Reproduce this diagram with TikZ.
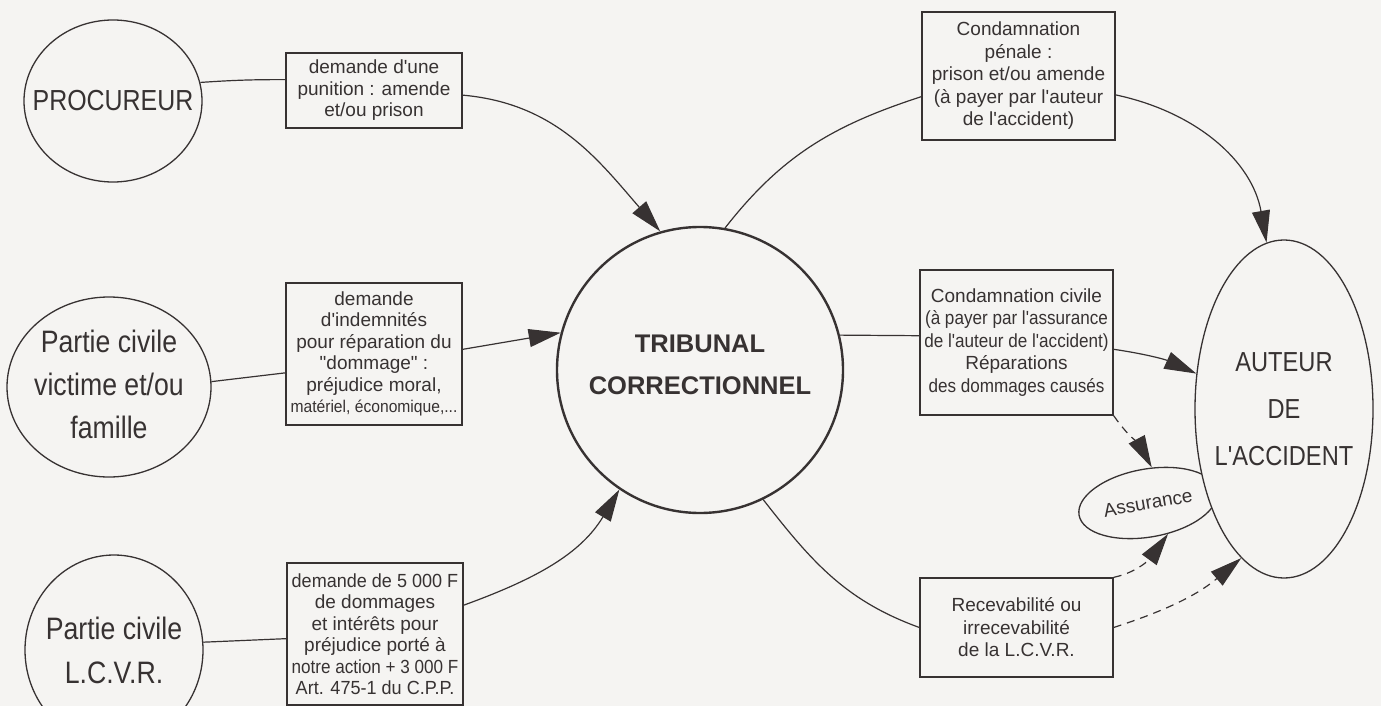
\documentclass[tikz,border=0pt]{standalone}
\usepackage{fontspec}
\setmainfont{Liberation Sans}[Ligatures=TeXOff]
\newfontfamily\bignarrow{Liberation Sans}[Ligatures=TeXOff, FakeStretch=0.86]
\newfontfamily\boxnarrow{Liberation Sans}[Ligatures=TeXOff, FakeStretch=0.9]
\newfontfamily\boxsemi{Liberation Sans}[Ligatures=TeXOff, FakeStretch=0.95]
\newfontfamily\boxsmall{Liberation Sans}[Ligatures=TeXOff, FakeStretch=0.92]
\usetikzlibrary{shapes.geometric, arrows.meta}

\definecolor{ink}{RGB}{55,50,50}
\definecolor{paper}{RGB}{245,244,242}

\tikzset{
  conn/.style={draw=ink, line width=1.2pt},
  arr/.style={conn, -{Triangle[length=32pt,width=18pt]}},
  darr/.style={arr, dash pattern=on 8pt off 6pt},
  box/.style={draw=ink, line width=1.3pt, rectangle, inner sep=0pt, align=center,
    text=ink, fill=paper, font=\fontsize{19}{21.5}\selectfont},
  rbox/.style={box, font=\fontsize{19}{22.5}\selectfont},
  oval/.style={draw=ink, line width=1.3pt, ellipse, inner sep=0pt, fill=paper},
  bigtext/.style={align=center, text=ink, inner sep=0pt},
}

\begin{document}
\begin{tikzpicture}[x=1pt,y=1pt]
  \fill[paper] (0,0) rectangle (1381,-706);
  \useasboundingbox (0,0) rectangle (1381,-706);

  % parties on the left
  \node[oval, minimum width=178pt, minimum height=162pt,
        label={[name=proc-t, bigtext, font=\bignarrow\fontsize{29}{43}\selectfont]center:PROCUREUR}]
        (proc) at (113,-101) {};
  \node[oval, minimum width=204pt, minimum height=180pt,
        label={[name=civ2-t, bigtext, yshift=3pt, font=\bignarrow\fontsize{31}{43}\selectfont]center:Partie civile\\victime et/ou\\famille}]
        (civ2) at (109,-387) {};
  \node[oval, minimum width=178pt, minimum height=190pt,
        label={[name=lcvr-t, bigtext, font=\bignarrow\fontsize{31}{44}\selectfont]center:Partie civile\\L.C.V.R.}]
        (lcvr) at (114,-650) {};

  % requests
  \node[box, minimum width=176pt, minimum height=75pt] (b1) at (374,-90.5)
    {demande d'une\\punition : amende\\et/ou prison};
  \node[box, minimum width=176pt, minimum height=142pt] (b2) at (374,-354)
    {demande\\d'indemnités\\pour réparation du\\"dommage" :\\préjudice moral,\\{\boxsmall\fontsize{17}{21.5}\selectfont matériel, économique,...}};
  \node[box, minimum width=176pt, minimum height=142pt] (b3) at (375,-634)
    {{\boxsemi demande de 5 000 F}\\de dommages\\et intérêts pour\\préjudice porté à\\{\boxnarrow notre action + 3 000 F}\\{\boxsemi Art. 475-1 du C.P.P.}};

  % court
  \node[circle, draw=ink, line width=2.4pt, minimum size=286pt, inner sep=0pt, fill=paper,
        label={[name=trib-t, bigtext, yshift=5pt, font=\bfseries\fontsize{25.5}{42}\selectfont]center:TRIBUNAL\\CORRECTIONNEL}]
        (trib) at (700,-370) {};

  % decisions
  \node[rbox, minimum width=193pt, minimum height=128pt] (pen) at (1018.5,-76)
    {Condamnation\\pénale :\\prison et/ou amende\\(à payer par l'auteur\\de l'accident)};
  \node[rbox, minimum width=193pt, minimum height=145pt] (civ) at (1016.5,-342.5)
    {Condamnation civile\\{\boxnarrow (à payer par l'assurance}\\{\boxnarrow de l'auteur de l'accident)}\\Réparations\\{\boxnarrow des dommages causés}};
  \node[rbox, minimum width=193pt, minimum height=99pt] (rec) at (1016.5,-627.5)
    {Recevabilité ou\\irrecevabilité\\de la L.C.V.R.};

  % insurer, partly hidden behind the driver
  \node[oval, minimum width=140pt, minimum height=68pt, rotate=10, text=ink,
        font=\fontsize{19}{21}\selectfont] (ass) at (1148,-503) {Assurance};
  \node[oval, minimum width=178pt, minimum height=338pt,
        label={[name=aut-t, bigtext, font=\bignarrow\fontsize{27.5}{47}\selectfont]center:AUTEUR\\DE\\L'ACCIDENT}]
        (aut) at (1284,-409) {};

  % connectors
  \draw[conn] (proc.12) to[bend left=2] (b1.173);
  \draw[arr] (b1.-3) to[out=-5, in=131] (trib.106);
  \draw[conn] (civ2.3) -- (b2.192);
  \draw[arr] (b2.3) -- (trib.165);
  \draw[conn] (lcvr.5) -- (b3.183);
  \draw[arr] (b3.18) to[out=20, in=-121] (trib.236);

  \draw[conn] (trib.80) to[out=52, in=198] (pen.192);
  \draw[arr] (pen.-11) to[out=-12, in=100] (aut.96);
  \draw[conn] (trib.14) -- (civ.176);
  \draw[arr] (civ.-4) to[bend left=8] (aut.158);
  \draw[conn] (trib.-64) to[out=-52, in=160] (rec.west);

  \draw[darr] (civ.south east) to[out=-55, in=118] (ass.74);
  \draw[darr] (rec.north east) to[out=12, in=-126] (ass.-67);
  \draw[darr] (rec.east) to[out=18, in=-140] (aut.254);
\end{tikzpicture}
\end{document}
